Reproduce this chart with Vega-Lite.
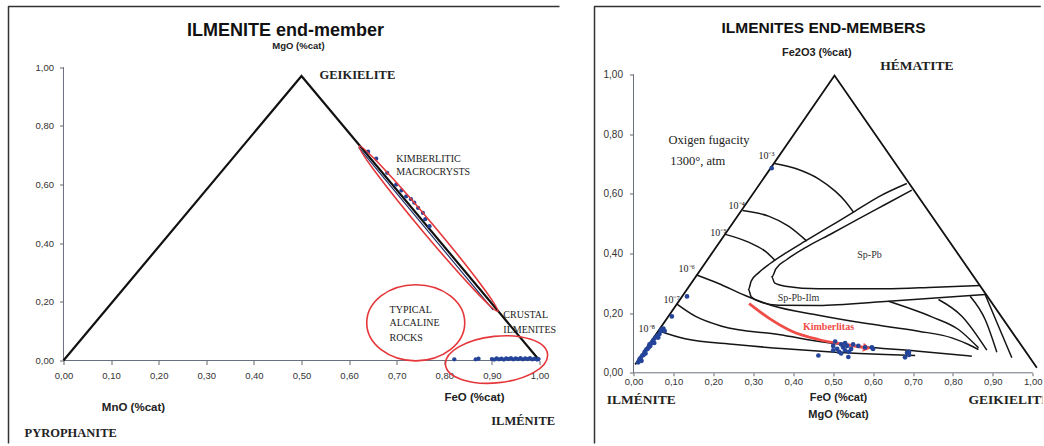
{
  "$schema": "https://vega.github.io/schema/vega-lite/v6.json",
  "padding": {"left": 7.5, "top": 5.5, "right": 0, "bottom": 0},
  "spacing": 33,
  "background": "white",
  "config": {"view": {"stroke": null}, "font": "Liberation Sans", "line": {"strokeJoin": "round"}},
  "hconcat": [
    {
      "width": 551,
      "height": 439,
      "encoding": {
        "x": {"field": "x", "type": "quantitative",
          "scale": {"domain": [-0.1155, 1.042], "nice": false, "zero": false},
          "axis": {"title": null, "values": [0, 0.1, 0.2, 0.3, 0.4, 0.5, 0.6, 0.7, 0.8, 0.9, 1], "offset": -85, "domain": false, "grid": false, "tickSize": 4, "tickColor": "#666", "labelPadding": 6, "labelFlush": false, "labelOverlap": false, "labelExpr": "replace(format(datum.value, '.2f'), '.', ',')", "labelFont": "Liberation Sans", "labelFontSize": 9.5, "labelColor": "#333"}},
        "y": {"field": "y", "type": "quantitative",
          "scale": {"domain": [-0.2898, 1.207], "nice": false, "zero": false},
          "axis": {"title": null, "values": [0, 0.2, 0.4, 0.6, 0.8, 1], "offset": -55, "domain": false, "grid": false, "tickSize": 4, "tickColor": "#666", "labelPadding": 6, "labelFlush": false, "labelOverlap": false, "labelExpr": "replace(format(datum.value, '.2f'), '.', ',')", "labelFont": "Liberation Sans", "labelFontSize": 9.5, "labelColor": "#333"}}
      },
      "layer": [
        {"data": {"values": [{"x": -0.1155, "y": -0.283}, {"x": -0.1155, "y": 1.207}, {"x": 1.042, "y": 1.207}]},
          "mark": {"type": "line", "color": "#333", "strokeWidth": 1.5, "strokeJoin": "round"},
          "encoding": {"order": {"value": null}}},
        {"data": {"values": [{"x": 0, "y": 0, "g": "a"}, {"x": 1, "y": 0, "g": "a"}, {"x": 0, "y": 0, "g": "b"}, {"x": 0, "y": 1, "g": "b"}]},
          "mark": {"type": "line", "color": "#6a6f80", "strokeWidth": 1},
          "encoding": {"detail": {"field": "g"}, "order": {"value": null}}},
        {"data": {"values": [{"x": 0, "y": 0}, {"x": 0.5, "y": 0.97}, {"x": 1, "y": 0}]},
          "mark": {"type": "line", "color": "#111", "strokeWidth": 2.2, "strokeJoin": "miter"},
          "encoding": {"order": {"value": null}}},
        {"data": {"values": [{"x": 0.62, "y": 0.727}, {"x": 0.903, "y": 0.172}]},
          "mark": {"type": "line", "color": "#1f2f6a", "strokeWidth": 1.2},
          "encoding": {"order": {"value": null}}},
        {"data": {"values": [
          {"x": 0.821, "y": 0.004}, {"x": 0.866, "y": 0.004}, {"x": 0.872, "y": 0.006}, {"x": 0.9, "y": 0.005}, {"x": 0.905, "y": 0.003}, {"x": 0.91, "y": 0.007}, {"x": 0.915, "y": 0.004}, {"x": 0.92, "y": 0.006}, {"x": 0.925, "y": 0.003}, {"x": 0.93, "y": 0.007}, {"x": 0.935, "y": 0.005}, {"x": 0.94, "y": 0.008}, {"x": 0.945, "y": 0.004}, {"x": 0.95, "y": 0.007}, {"x": 0.955, "y": 0.005}, {"x": 0.96, "y": 0.008}, {"x": 0.965, "y": 0.004}, {"x": 0.97, "y": 0.007}, {"x": 0.975, "y": 0.005}, {"x": 0.98, "y": 0.008}, {"x": 0.985, "y": 0.004}, {"x": 0.99, "y": 0.006}, {"x": 0.995, "y": 0.003}, {"x": 0.998, "y": 0.005},
          {"x": 0.657, "y": 0.688}, {"x": 0.699, "y": 0.6}, {"x": 0.72, "y": 0.56}, {"x": 0.737, "y": 0.538}, {"x": 0.755, "y": 0.503}, {"x": 0.769, "y": 0.458}, {"x": 0.64, "y": 0.712}, {"x": 0.68, "y": 0.64}, {"x": 0.71, "y": 0.58}, {"x": 0.745, "y": 0.52}, {"x": 0.76, "y": 0.482}, {"x": 0.73, "y": 0.55}]},
          "mark": {"type": "point", "filled": true, "color": "#24449a", "size": 18, "opacity": 1}},
        {"data": {"values": [{"x": 0.767, "y": 0.449}]},
          "mark": {"type": "point", "filled": false, "color": "#e5373a", "strokeWidth": 1.6, "opacity": 1, "size": 46397, "angle": 50,
            "shape": "M1,0C1,0.031 0.552,0.056 0,0.056C-0.552,0.056 -1,0.031 -1,0C-1,-0.031 -0.552,-0.056 0,-0.056C0.552,-0.056 1,-0.031 1,0Z"}},
        {"data": {"values": [{"x": 0.74, "y": 0.1285}]},
          "mark": {"type": "point", "filled": false, "color": "#e5373a", "strokeWidth": 1.6, "opacity": 1, "size": 9604, "angle": 0,
            "shape": "M1,0C1,0.429 0.552,0.776 0,0.776C-0.552,0.776 -1,0.429 -1,0C-1,-0.429 -0.552,-0.776 0,-0.776C0.552,-0.776 1,-0.429 1,0Z"}},
        {"data": {"values": [{"x": 0.9097, "y": 0.0034}]},
          "mark": {"type": "point", "filled": false, "color": "#e5373a", "strokeWidth": 1.6, "opacity": 1, "size": 10527, "angle": -6,
            "shape": "M1,0C1,0.251 0.552,0.454 0,0.454C-0.552,0.454 -1,0.251 -1,0C-1,-0.251 -0.552,-0.454 0,-0.454C0.552,-0.454 1,-0.251 1,0Z"}},
        {"data": {"values": [{"x": 0.4664, "y": 1.124, "t": "ILMENITE end-member"}]},
          "mark": {"type": "text", "font": "Liberation Sans", "fontWeight": "bold", "fontSize": 18, "align": "center", "baseline": "middle", "color": "#111"},
          "encoding": {"text": {"field": "t"}}},
        {"data": {"values": [{"x": 0.4937, "y": 1.0716, "t": "MgO (%cat)"}]},
          "mark": {"type": "text", "font": "Liberation Sans", "fontWeight": "bold", "fontSize": 9.5, "align": "center", "baseline": "middle", "color": "#222"},
          "encoding": {"text": {"field": "t"}}},
        {"data": {"values": [{"x": 0.147, "y": -0.161, "t": "MnO (%cat)"}, {"x": 0.8634, "y": -0.127, "t": "FeO (%cat)"}]},
          "mark": {"type": "text", "font": "Liberation Sans", "fontWeight": "bold", "fontSize": 11.5, "align": "center", "baseline": "middle", "color": "#222"},
          "encoding": {"text": {"field": "t"}}},
        {"data": {"values": [{"x": 0.5378, "y": 0.9751, "t": "GEIKIELITE"}, {"x": -0.0819, "y": -0.2465, "t": "PYROPHANITE"}, {"x": 0.8985, "y": -0.207, "t": "ILMÉNITE"}]},
          "mark": {"type": "text", "font": "Liberation Serif", "fontWeight": "bold", "fontSize": 12.5, "align": "left", "baseline": "middle", "color": "#222"},
          "encoding": {"text": {"field": "t"}}},
        {"data": {"values": [{"x": 0.699, "y": 0.6877, "t": "KIMBERLITIC"}, {"x": 0.699, "y": 0.642, "t": "MACROCRYSTS"}, {"x": 0.685, "y": 0.1715, "t": "TYPICAL"}, {"x": 0.685, "y": 0.1285, "t": "ALCALINE"}, {"x": 0.685, "y": 0.0774, "t": "ROCKS"}, {"x": 0.924, "y": 0.1568, "t": "CRUSTAL"}, {"x": 0.924, "y": 0.1057, "t": "ILMENITES"}]},
          "mark": {"type": "text", "font": "Liberation Serif", "fontSize": 10, "align": "left", "baseline": "middle", "color": "#222"},
          "encoding": {"text": {"field": "t"}}}
      ]
    },
    {
      "width": 448,
      "height": 439,
      "encoding": {
        "x": {"field": "x", "type": "quantitative",
          "scale": {"domain": [-0.0977, 1.0243], "nice": false, "zero": false},
          "axis": {"title": null, "values": [0, 0.1, 0.2, 0.3, 0.4, 0.5, 0.6, 0.7, 0.8, 0.9, 1], "offset": -72.7, "domain": false, "grid": false, "tickSize": 3, "tickColor": "#666", "labelPadding": 1, "labelFlush": false, "labelOverlap": false, "labelExpr": "replace(format(datum.value, '.2f'), '.', ',')", "labelFont": "Liberation Sans", "labelFontSize": 9.5, "labelColor": "#333"}},
        "y": {"field": "y", "type": "quantitative",
          "scale": {"domain": [-0.2437, 1.228], "nice": false, "zero": false},
          "axis": {"title": null, "values": [0, 0.2, 0.4, 0.6, 0.8, 1], "offset": -39, "domain": false, "grid": false, "tickSize": 4, "tickColor": "#666", "labelPadding": 7, "labelFlush": false, "labelOverlap": false, "labelExpr": "replace(format(datum.value, '.2f'), '.', ',')", "labelFont": "Liberation Sans", "labelFontSize": 10, "labelColor": "#333"}}
      },
      "layer": [
        {"data": {"values": [{"x": -0.0977, "y": -0.237}, {"x": -0.0977, "y": 1.228}, {"x": 1.02, "y": 1.228}]},
          "mark": {"type": "line", "color": "#333", "strokeWidth": 1.5, "strokeJoin": "round"},
          "encoding": {"order": {"value": null}}},
        {"data": {"values": [{"x": 0, "y": 0, "g": "a"}, {"x": 1, "y": 0, "g": "a"}, {"x": 0, "y": 0, "g": "b"}, {"x": 0, "y": 1, "g": "b"}]},
          "mark": {"type": "line", "color": "#6a6f80", "strokeWidth": 1},
          "encoding": {"detail": {"field": "g"}, "order": {"value": null}}},
        {"data": {"values": [{"x": 0.0042, "y": 0.0278}, {"x": 0.5034, "y": 0.9967}, {"x": 1.0101, "y": 0.0168}]},
          "mark": {"type": "line", "color": "#111", "strokeWidth": 1.8, "strokeJoin": "miter"},
          "encoding": {"order": {"value": null}}},
        {"data": {"values": [
          {"g": "c3", "x": 0.3531, "y": 0.7017}, {"g": "c3", "x": 0.4132, "y": 0.6815}, {"g": "c3", "x": 0.4633, "y": 0.6503}, {"g": "c3", "x": 0.5051, "y": 0.6089}, {"g": "c3", "x": 0.5301, "y": 0.5754}, {"g": "c3", "x": 0.551, "y": 0.5385},
          {"g": "oh", "x": 0.6845, "y": 0.6346}, {"g": "oh", "x": 0.6136, "y": 0.5899}, {"g": "oh", "x": 0.551, "y": 0.5385}, {"g": "oh", "x": 0.4884, "y": 0.4882}, {"g": "oh", "x": 0.4299, "y": 0.4413}, {"g": "oh", "x": 0.3798, "y": 0.4}, {"g": "oh", "x": 0.3423, "y": 0.3664}, {"g": "oh", "x": 0.313, "y": 0.3351}, {"g": "oh", "x": 0.2947, "y": 0.3072}, {"g": "oh", "x": 0.288, "y": 0.2792}, {"g": "oh", "x": 0.2947, "y": 0.2547}, {"g": "oh", "x": 0.3172, "y": 0.2379}, {"g": "oh", "x": 0.3631, "y": 0.2267}, {"g": "oh", "x": 0.4633, "y": 0.2256}, {"g": "oh", "x": 0.6303, "y": 0.239}, {"g": "oh", "x": 0.8807, "y": 0.2625},
          {"g": "ih", "x": 0.6971, "y": 0.6122}, {"g": "ih", "x": 0.6303, "y": 0.5642}, {"g": "ih", "x": 0.5635, "y": 0.5162}, {"g": "ih", "x": 0.4967, "y": 0.467}, {"g": "ih", "x": 0.4341, "y": 0.4223}, {"g": "ih", "x": 0.384, "y": 0.3798}, {"g": "ih", "x": 0.3565, "y": 0.3485}, {"g": "ih", "x": 0.3464, "y": 0.3217}, {"g": "ih", "x": 0.3531, "y": 0.3016}, {"g": "ih", "x": 0.3798, "y": 0.2904}, {"g": "ih", "x": 0.4633, "y": 0.2815}, {"g": "ih", "x": 0.6303, "y": 0.2815}, {"g": "ih", "x": 0.7555, "y": 0.2871}, {"g": "ih", "x": 0.8682, "y": 0.2927},
          {"g": "c4", "x": 0.273, "y": 0.5441}, {"g": "c4", "x": 0.3381, "y": 0.5251}, {"g": "c4", "x": 0.3882, "y": 0.4916}, {"g": "c4", "x": 0.4341, "y": 0.4413},
          {"g": "c5", "x": 0.228, "y": 0.465}, {"g": "c5", "x": 0.288, "y": 0.4379}, {"g": "c5", "x": 0.3297, "y": 0.4077}, {"g": "c5", "x": 0.3548, "y": 0.3765},
          {"g": "c6", "x": 0.158, "y": 0.328}, {"g": "c6", "x": 0.2129, "y": 0.2994}, {"g": "c6", "x": 0.2797, "y": 0.2591}, {"g": "c6", "x": 0.3464, "y": 0.2256}, {"g": "c6", "x": 0.4633, "y": 0.1932}, {"g": "c6", "x": 0.5885, "y": 0.1642}, {"g": "c6", "x": 0.7137, "y": 0.1396}, {"g": "c6", "x": 0.7972, "y": 0.1172}, {"g": "c6", "x": 0.839, "y": 0.0949}, {"g": "c6", "x": 0.864, "y": 0.0781},
          {"g": "c7", "x": 0.108, "y": 0.231}, {"g": "c7", "x": 0.1544, "y": 0.1898}, {"g": "c7", "x": 0.2212, "y": 0.1563}, {"g": "c7", "x": 0.3631, "y": 0.1284}, {"g": "c7", "x": 0.4884, "y": 0.1005}, {"g": "c7", "x": 0.5635, "y": 0.0893}, {"g": "c7", "x": 0.7137, "y": 0.0725}, {"g": "c7", "x": 0.8473, "y": 0.0558},
          {"g": "c8", "x": 0.062, "y": 0.141}, {"g": "c8", "x": 0.1294, "y": 0.1139}, {"g": "c8", "x": 0.2546, "y": 0.0949}, {"g": "c8", "x": 0.3798, "y": 0.0804}, {"g": "c8", "x": 0.5051, "y": 0.0692}, {"g": "c8", "x": 0.6303, "y": 0.0613}, {"g": "c8", "x": 0.7054, "y": 0.058},
          {"g": "f1", "x": 0.6386, "y": 0.2401}, {"g": "f1", "x": 0.7471, "y": 0.1876}, {"g": "f1", "x": 0.8139, "y": 0.1452}, {"g": "f1", "x": 0.864, "y": 0.0837},
          {"g": "f2", "x": 0.7638, "y": 0.2457}, {"g": "f2", "x": 0.8223, "y": 0.1898}, {"g": "f2", "x": 0.8849, "y": 0.0759},
          {"g": "f3", "x": 0.8431, "y": 0.2569}, {"g": "f3", "x": 0.8807, "y": 0.1787}, {"g": "f3", "x": 0.9099, "y": 0.0692},
          {"g": "f4", "x": 0.8807, "y": 0.2625}, {"g": "f4", "x": 0.9141, "y": 0.1563}, {"g": "f4", "x": 0.9475, "y": 0.0502}]},
          "mark": {"type": "line", "color": "#151515", "strokeWidth": 1.5, "interpolate": "monotone"},
          "encoding": {"detail": {"field": "g"}, "order": {"value": null}}},
        {"data": {"values": [{"x": 0.2897, "y": 0.2323}, {"x": 0.3381, "y": 0.1843}, {"x": 0.3965, "y": 0.1396}, {"x": 0.4633, "y": 0.1116}, {"x": 0.5301, "y": 0.0949}, {"x": 0.58, "y": 0.0845}]},
          "mark": {"type": "line", "color": "#f04d48", "strokeWidth": 2.8, "interpolate": "monotone"},
          "encoding": {"order": {"value": null}}},
        {"data": {"values": [{"x": 0.5844, "y": 0.0837}]},
          "mark": {"type": "point", "shape": "triangle-right", "filled": true, "color": "#f04d48", "size": 80, "angle": 9, "opacity": 1}},
        {"data": {"values": [
          {"x": 0.012, "y": 0.035}, {"x": 0.015, "y": 0.045}, {"x": 0.018, "y": 0.05}, {"x": 0.02, "y": 0.04}, {"x": 0.022, "y": 0.058}, {"x": 0.025, "y": 0.06}, {"x": 0.028, "y": 0.07}, {"x": 0.03, "y": 0.065}, {"x": 0.032, "y": 0.078}, {"x": 0.035, "y": 0.08}, {"x": 0.038, "y": 0.085}, {"x": 0.04, "y": 0.095}, {"x": 0.042, "y": 0.09}, {"x": 0.045, "y": 0.1}, {"x": 0.048, "y": 0.105}, {"x": 0.05, "y": 0.11}, {"x": 0.052, "y": 0.1}, {"x": 0.055, "y": 0.118}, {"x": 0.058, "y": 0.12}, {"x": 0.06, "y": 0.125}, {"x": 0.062, "y": 0.118}, {"x": 0.065, "y": 0.13}, {"x": 0.068, "y": 0.14}, {"x": 0.07, "y": 0.145}, {"x": 0.075, "y": 0.148}, {"x": 0.078, "y": 0.14},
          {"x": 0.096, "y": 0.189}, {"x": 0.134, "y": 0.256}, {"x": 0.346, "y": 0.686},
          {"x": 0.463, "y": 0.058}, {"x": 0.5, "y": 0.075}, {"x": 0.5, "y": 0.09}, {"x": 0.505, "y": 0.105}, {"x": 0.51, "y": 0.08}, {"x": 0.515, "y": 0.07}, {"x": 0.52, "y": 0.095}, {"x": 0.52, "y": 0.065}, {"x": 0.525, "y": 0.085}, {"x": 0.53, "y": 0.075}, {"x": 0.53, "y": 0.1}, {"x": 0.535, "y": 0.09}, {"x": 0.538, "y": 0.053}, {"x": 0.54, "y": 0.07}, {"x": 0.545, "y": 0.08}, {"x": 0.55, "y": 0.095}, {"x": 0.563, "y": 0.09}, {"x": 0.58, "y": 0.085}, {"x": 0.597, "y": 0.085}, {"x": 0.6, "y": 0.08}, {"x": 0.68, "y": 0.052}, {"x": 0.685, "y": 0.067}, {"x": 0.69, "y": 0.07}, {"x": 0.69, "y": 0.06}]},
          "mark": {"type": "point", "filled": true, "color": "#24449a", "size": 22, "opacity": 1}},
        {"data": {"values": [{"x": 0.4758, "y": 1.1566, "t": "ILMENITES END-MEMBERS"}]},
          "mark": {"type": "text", "font": "Liberation Sans", "fontWeight": "bold", "fontSize": 15.5, "align": "center", "baseline": "middle", "color": "#111"},
          "encoding": {"text": {"field": "t"}}},
        {"data": {"values": [{"x": 0.459, "y": 1.0728, "t": "Fe2O3 (%cat)"}, {"x": 0.5134, "y": -0.0838, "t": "FeO (%cat)"}, {"x": 0.5134, "y": -0.1398, "t": "MgO (%cat)"}]},
          "mark": {"type": "text", "font": "Liberation Sans", "fontWeight": "bold", "fontSize": 11, "align": "center", "baseline": "middle", "color": "#222"},
          "encoding": {"text": {"field": "t"}}},
        {"data": {"values": [{"x": 0.6178, "y": 1.028, "t": "HÉMATITE"}, {"x": -0.0669, "y": -0.0919, "t": "ILMÉNITE"}]},
          "mark": {"type": "text", "font": "Liberation Serif", "fontWeight": "bold", "fontSize": 13.5, "align": "left", "baseline": "middle", "color": "#222"},
          "encoding": {"text": {"field": "t"}}},
        {"data": {"values": [{"x": 0.839, "y": -0.0895, "t": "GEIKIELITE"}]},
          "mark": {"type": "text", "font": "Liberation Serif", "fontWeight": "bold", "fontSize": 13.5, "align": "left", "baseline": "middle", "color": "#222", "clip": true},
          "encoding": {"text": {"field": "t"}}},
        {"data": {"values": [{"x": 0.0877, "y": 0.7798, "t": "Oxigen fugacity"}, {"x": 0.0919, "y": 0.7093, "t": "1300°, atm"}]},
          "mark": {"type": "text", "font": "Liberation Serif", "fontSize": 12.5, "align": "left", "baseline": "middle", "color": "#222"},
          "encoding": {"text": {"field": "t"}}},
        {"data": {"values": [{"x": 0.313, "y": 0.726, "t": "10⁻³"}, {"x": 0.2379, "y": 0.5585, "t": "10⁻⁴"}, {"x": 0.192, "y": 0.4693, "t": "10⁻⁵"}, {"x": 0.1127, "y": 0.3486, "t": "10⁻⁶"}, {"x": 0.0751, "y": 0.2434, "t": "10⁻⁷"}, {"x": 0.0125, "y": 0.1475, "t": "10⁻⁸"}]},
          "mark": {"type": "text", "font": "Liberation Serif", "fontSize": 10, "align": "left", "baseline": "middle", "color": "#222"},
          "encoding": {"text": {"field": "t"}}},
        {"data": {"values": [{"x": 0.591, "y": 0.3966, "t": "Sp-Pb"}, {"x": 0.4132, "y": 0.2514, "t": "Sp-Pb-Ilm"}]},
          "mark": {"type": "text", "font": "Liberation Serif", "fontSize": 10, "align": "center", "baseline": "middle", "color": "#333"},
          "encoding": {"text": {"field": "t"}}},
        {"data": {"values": [{"x": 0.4884, "y": 0.1542, "t": "Kimberlitas"}]},
          "mark": {"type": "text", "font": "Liberation Serif", "fontWeight": "bold", "fontSize": 10, "align": "center", "baseline": "middle", "color": "#f04d48"},
          "encoding": {"text": {"field": "t"}}}
      ]
    }
  ]
}
